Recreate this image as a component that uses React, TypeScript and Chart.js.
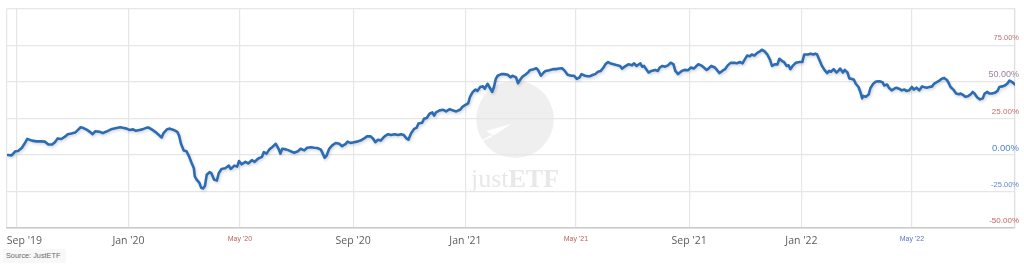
import React, { useEffect, useRef } from 'react';
import { Chart, registerables } from 'chart.js';

Chart.register(...registerables);

// ---- data (days since 1 Sep 2019, cumulative performance in %) ----
const dayOffsets = [
  -9, -5, -1, 2, 6, 9, 12, 17, 22, 27, 31, 35, 39, 42, 45, 49, 53, 56, 60, 64, 66, 70, 73, 77, 80, 83, 86, 91, 94, 98,
  103, 109, 113, 117, 120, 123, 127, 130, 134, 137, 142,
  144, 148, 151, 155, 158, 160, 164, 167, 171, 175, 177, 179, 182, 185, 188, 190, 193, 194, 196, 199, 201, 203, 205, 207,
  210, 212, 215, 218, 220, 223, 227, 231, 233, 237, 240, 242, 245, 249, 252, 256, 259, 263, 267, 269, 272, 275, 278, 282,
  285, 287, 289, 293, 296, 300,
  302, 306, 309, 313, 316, 320, 324, 327, 331, 333, 335, 337, 340, 343, 347, 351, 354, 358, 360, 363, 367, 370, 374, 378,
  381, 385, 388, 390, 393, 396, 399, 401, 404, 407, 411, 415, 418, 421, 424, 426, 429, 432, 435, 437, 441, 443, 446, 449,
  452, 454, 456,
  460, 464, 467, 471, 474, 478, 482, 485, 488, 491, 493, 496, 499, 501, 504, 507, 509, 512, 514, 517, 519, 521, 523, 527,
  530, 534, 537, 539, 543, 545, 548, 550, 553, 556, 558, 562, 565, 567, 570, 573, 575, 579, 583, 586, 590, 593, 596, 599,
  603, 606, 609, 612, 614,
  618, 621, 623, 626, 629, 632, 635, 638, 640, 643, 645, 649, 652, 656, 658, 661, 665, 669, 671, 674, 678, 680, 682, 685,
  687, 690, 694, 697, 699, 702, 705, 708, 711, 714, 716, 719, 721, 723, 726, 730, 733, 736, 739, 741, 744, 747, 750, 752,
  755, 759, 762, 764, 767, 770, 773,
  776, 780, 783, 786, 789, 791, 794, 797, 799, 802, 805, 808, 810, 813, 816, 819, 821, 824, 827, 829, 832, 834, 837, 839,
  841, 844, 847, 851, 854, 856, 860, 863, 866, 868, 870, 873, 875, 878, 881, 883, 885, 888, 891, 893, 895, 898, 900, 903,
  905, 908, 910, 912, 915, 917, 919, 920, 923, 926, 928, 931,
  934, 938, 941, 943, 946, 948, 951, 954, 956, 959, 962, 965, 967, 970, 973, 975, 978, 981, 984, 986, 989, 992, 995, 997,
  1000, 1003, 1005, 1008, 1011, 1013, 1015, 1018, 1021, 1024, 1026, 1029, 1031, 1034, 1037, 1039, 1041, 1044, 1047, 1050,
  1052, 1055, 1057, 1060, 1063, 1066, 1068, 1071, 1074, 1077, 1079, 1082, 1085,
];

const returnPct = [
  0, -0.3, 2.5, 2.7, 4.7, 7.6, 11, 9.8, 9.3, 9.3, 9.1, 7.1, 7.1, 8.7, 11.3, 10.9, 12.5, 14.2, 14.7, 15.3, 16.5, 18.9, 18.4,
  17.1, 15.8, 14.2, 16.2, 15.8, 14.9, 16, 17.5, 18.4, 18.9, 18.4, 18, 17.1, 17.5, 16.5, 17.1, 17.5, 18.7,
  18.7, 17.1, 15.8, 13.6, 12, 14.9, 17.6, 18, 17.1, 15.8, 13.1, 7.6, 3.1, 2.5, -1.3, -4.7, -9.1, -14.7, -16.9, -19.1, -22.5,
  -22.9, -21.3, -13.5, -11.8, -12.5, -16.9, -17.5, -12.5, -9.6, -9.1, -7.3, -9.6, -7.3, -8, -4.2, -6.4, -4.7, -5.8, -3.6,
  -4.7, -2.4, -1.3, 2, 0.9, 3.8, 5.3, 7.6, 4.2, 0.9, 4.2, 3.8, 3.1, 2,
  1.5, 2.5, 4.2, 3.1, 4.9, 5.3, 4.9, 4.7, 3.6, 0.9, -2, -0.7, 4.2, 6.4, 8.2, 7.6, 6, 7.6, 9.1, 8.2, 8.7, 9.1, 9.8, 11.3,
  12.7, 12.7, 10.9, 8.7, 10.4, 9.8, 12, 13.1, 14.2, 13.6, 14.2, 13.6, 14.2, 13.6, 11.3, 10.4, 14.9, 17.6, 18.7, 21.5, 22,
  24.7, 25.3, 28.2, 29.1, 26.9, 29.1,
  30.5, 30.9, 29.8, 31.3, 30.5, 29.8, 30.9, 33.1, 34.2, 35.3, 39.8, 43.1, 44.7, 43.8, 46.5, 46.9, 45.3, 48.7, 46.5, 43.1,
  46.5, 52, 54.2, 55.3, 55.3, 54.9, 53.1, 54.2, 53.1, 49.1, 52, 53.6, 54.9, 56.4, 58, 58.7, 59.3, 58, 54.2, 56.4, 57.5, 58,
  58.7, 58.7, 59.1, 59.3, 57.5, 54.9, 54.2, 54.2, 52, 53.1, 55.3,
  54.2, 53.8, 53.8, 54.7, 55.3, 56.9, 57.5, 59.8, 62, 63.6, 62.7, 62, 61.5, 60.9, 59.1, 60.4, 62, 61.3, 62.7, 60.9, 62.7,
  60.4, 60.9, 58.2, 56.4, 57.5, 58.2, 57.5, 59.8, 60.9, 60.4, 61.3, 63.1, 62, 57.5, 55.3, 56.4, 57.5, 58.2, 58, 59.8, 59.1,
  60.9, 62, 61.3, 59.8, 58.2, 59.1, 60.9, 59.8, 57.5, 56, 57.5, 58.7, 61.3,
  63, 63.1, 62.7, 63.6, 62.7, 64.9, 68, 67.6, 68.7, 68, 69.8, 70.9, 72, 70.9, 68.7, 64.9, 60.9, 62, 62, 65.8, 64.2, 63.6,
  60.9, 61.3, 58.7, 61.3, 63.1, 63.6, 63.6, 68.7, 68.7, 69.3, 68.7, 69.3, 68.7, 64.2, 61.3, 58.2, 56, 57.5, 56.9, 58.7,
  56.4, 57.5, 59.1, 56.4, 58.2, 56.4, 52.4, 52, 51.5, 48.7, 46.5, 43.1, 38.7, 40.4, 39.8, 41.3, 45.8, 48.7,
  50.2, 50.4, 49.8, 47.5, 48.2, 46, 44.2, 45.3, 46, 45.3, 44.2, 44.7, 43.8, 44.2, 46.5, 44.7, 46, 44.2, 46.9, 46.5, 46,
  46.5, 46.9, 48.7, 49.8, 50.9, 52, 52.7, 51.3, 49.1, 46.5, 44.7, 42, 41.5, 42, 40.9, 39.8, 40.2, 41.5, 43.1, 42, 39.3, 38,
  38.7, 42, 43.1, 42, 42, 42.5, 43.8, 46.5, 46.9, 47.5, 49.1, 50.9, 49.8, 48.2,
];

// x axis: month ticks (days since 1 Sep 2019)
const xMinDay = -10;
const xMaxDay = 1085;
const monthTickDays = [0, 122, 243, 366, 488, 608, 731, 853, 973];
const monthTickLabels = ["Sep '19", "Jan '20", "May '20", "Sep '20", "Jan '21", "May '21", "Sep '21", "Jan '22", "May '22"];

// y axis
const yMin = -50;
const yMax = 100;
const yStep = 25;

const sourceText = 'Source: JustETF';
const watermarkText = ['just', 'ETF'];

// ---- styles ----
const MAJOR_FONT = { family: "'Open Sans', sans-serif", size: 10.5 };
const MINOR_FONT = { family: "'Liberation Sans', Arial, sans-serif", size: 7 };
const X_LABEL_STYLE: Record<string, { color: string; font: any }> = {
  "May '20": { color: '#b8625c', font: MINOR_FONT },
  "May '21": { color: '#b8625c', font: MINOR_FONT },
  "May '22": { color: '#5a72c2', font: MINOR_FONT },
};
const X_MAJOR_COLOR = '#5c5c5c';

const Y_FAMILY = "'Liberation Sans', Arial, sans-serif";
const Y_LABEL_STYLE: Record<string, { color: string; size: number }> = {
  '75': { color: '#c27272', size: 7.5 },
  '50': { color: '#9c809e', size: 9 },
  '25': { color: '#c06c6c', size: 8 },
  '0': { color: '#4f86d0', size: 9.5 },
  '-25': { color: '#5b88c8', size: 7.5 },
  '-50': { color: '#c06262', size: 8 },
};

const LINE_COLOR = '#2b6cb4';
const GRID_COLOR = '#e6e6e6';

const watermarkPlugin = {
  id: 'watermark',
  beforeDraw(chart: any) {
    const { ctx, chartArea: a } = chart;
    const w = a.right - a.left;
    const h = a.bottom - a.top;
    const cx = a.left + w * 0.504;
    const cy = a.top + h * 0.504;
    const r = h * 0.177;
    ctx.save();
    ctx.fillStyle = '#efefef';
    ctx.beginPath();
    ctx.arc(cx, cy, r, 0, Math.PI * 2);
    ctx.fill();
    // white paper-plane wedge
    ctx.fillStyle = '#ffffff';
    ctx.beginPath();
    ctx.moveTo(cx - r * 1.15, cy + r * 0.7);
    ctx.lineTo(cx - r * 0.1, cy + r * 0.12);
    ctx.lineTo(cx - r * 0.55, cy + r * 0.3);
    ctx.lineTo(cx - r * 0.6, cy + r * 0.45);
    ctx.closePath();
    ctx.fill();
    ctx.beginPath();
    ctx.moveTo(cx - r * 0.1, cy + r * 0.12);
    ctx.lineTo(cx - r * 0.75, cy + r * 0.3);
    ctx.lineTo(cx - r * 0.55, cy + r * 0.42);
    ctx.closePath();
    ctx.fill();
    // text
    ctx.fillStyle = '#e8e8e8';
    ctx.textBaseline = 'alphabetic';
    const f1 = "26px 'Liberation Serif', 'DejaVu Serif', serif";
    const f2 = "bold 26px 'Liberation Serif', 'DejaVu Serif', serif";
    ctx.font = f1;
    const w1 = ctx.measureText(watermarkText[0]).width;
    ctx.font = f2;
    const w2 = ctx.measureText(watermarkText[1]).width;
    const tx = cx - (w1 + w2) / 2;
    const ty = a.top + h * 0.814;
    ctx.font = f1;
    ctx.fillText(watermarkText[0], tx, ty);
    ctx.font = f2;
    ctx.fillText(watermarkText[1], tx + w1, ty);
    ctx.restore();
  },
};

const shadowPlugin = {
  id: 'lineShadow',
  beforeDatasetDraw(chart: any) {
    const c = chart.ctx;
    c.save();
    c.shadowColor = 'rgba(0,0,0,0.18)';
    c.shadowBlur = 3;
    c.shadowOffsetX = 1;
    c.shadowOffsetY = 1.5;
  },
  afterDatasetDraw(chart: any) {
    chart.ctx.restore();
  },
};

function xLabelFor(value: number): string {
  const i = monthTickDays.indexOf(value);
  if (i < 0) return '';
  const label = monthTickLabels[i];
  // first label is pushed inside the plot like the reference
  return i === 0 ? '      ' + label : label;
}

export default function App() {
  const canvasRef = useRef<HTMLCanvasElement | null>(null);

  useEffect(() => {
    const canvas = canvasRef.current;
    if (!canvas) return;
    const data = dayOffsets.map((d, i) => ({ x: d, y: returnPct[i] }));
    const chart = new Chart(canvas, {
      type: 'line',
      data: {
        datasets: [
          {
            data,
            borderColor: LINE_COLOR,
            borderWidth: 2.6,
            pointRadius: 0,
            tension: 0,
            borderJoinStyle: 'round',
            borderCapStyle: 'round',
            fill: false,
          } as any,
        ],
      },
      options: {
        responsive: false,
        animation: false,
        devicePixelRatio: 1,
        layout: { padding: { left: 4, top: 2, right: 9, bottom: 0 } },
        plugins: { legend: { display: false }, tooltip: { enabled: false } },
        scales: {
          x: {
            type: 'linear',
            min: xMinDay,
            max: xMaxDay,
            afterBuildTicks: (s: any) => {
              s.ticks = [xMinDay, ...monthTickDays, xMaxDay].map((v) => ({ value: v }));
            },
            afterFit: (s: any) => {
              s.height = 43;
            },
            grid: { color: GRID_COLOR, lineWidth: 1.2, drawTicks: false },
            border: { color: '#c9c9c9', width: 1.5 },
            ticks: {
              autoSkip: false,
              maxRotation: 0,
              minRotation: 0,
              padding: 7,
              callback: (v: any) => xLabelFor(Number(v)),
              color: (ctx: any) => {
                const v = ctx.tick ? ctx.tick.value : null;
                const i = monthTickDays.indexOf(v);
                const st = i >= 0 ? X_LABEL_STYLE[monthTickLabels[i]] : undefined;
                return st ? st.color : X_MAJOR_COLOR;
              },
              font: (ctx: any) => {
                const v = ctx.tick ? ctx.tick.value : null;
                const i = monthTickDays.indexOf(v);
                const st = i >= 0 ? X_LABEL_STYLE[monthTickLabels[i]] : undefined;
                return st ? st.font : MAJOR_FONT;
              },
            },
          },
          y: {
            position: 'right',
            min: yMin,
            max: yMax,
            afterFit: (s: any) => {
              s.width = 0;
            },
            grid: { color: GRID_COLOR, lineWidth: 1.2, drawTicks: false },
            border: { color: '#e0e0e0', width: 1.2 },
            ticks: {
              stepSize: yStep,
              mirror: true,
              padding: 4,
              labelOffset: -7,
              callback: (v: any) => (Number(v) === yMax ? '' : `${Number(v).toFixed(2)}%`),
              color: (ctx: any) => {
                const st = ctx.tick ? Y_LABEL_STYLE[String(ctx.tick.value)] : undefined;
                return st ? st.color : '#999';
              },
              font: (ctx: any) => {
                const st = ctx.tick ? Y_LABEL_STYLE[String(ctx.tick.value)] : undefined;
                return { family: Y_FAMILY, size: st ? st.size : 8 };
              },
            },
          },
        },
      } as any,
      plugins: [watermarkPlugin, shadowPlugin],
    });
    return () => chart.destroy();
  }, []);

  return (
    <div
      style={{
        position: 'absolute',
        left: 0,
        top: 0,
        width: 1024,
        height: 271,
        background: '#ffffff',
        overflow: 'hidden',
      }}
    >
      <canvas ref={canvasRef} width={1024} height={271} style={{ display: 'block', width: 1024, height: 271 }} />
      <div
        style={{
          position: 'absolute',
          left: 3,
          top: 249,
          padding: '1px 6px 2px 3px',
          background: '#f8f8f8',
          color: '#6a6a6a',
          fontFamily: "'Liberation Sans', Arial, sans-serif",
          fontSize: 7.3,
          lineHeight: '11px',
        }}
      >
        {sourceText}
      </div>
    </div>
  );
}
